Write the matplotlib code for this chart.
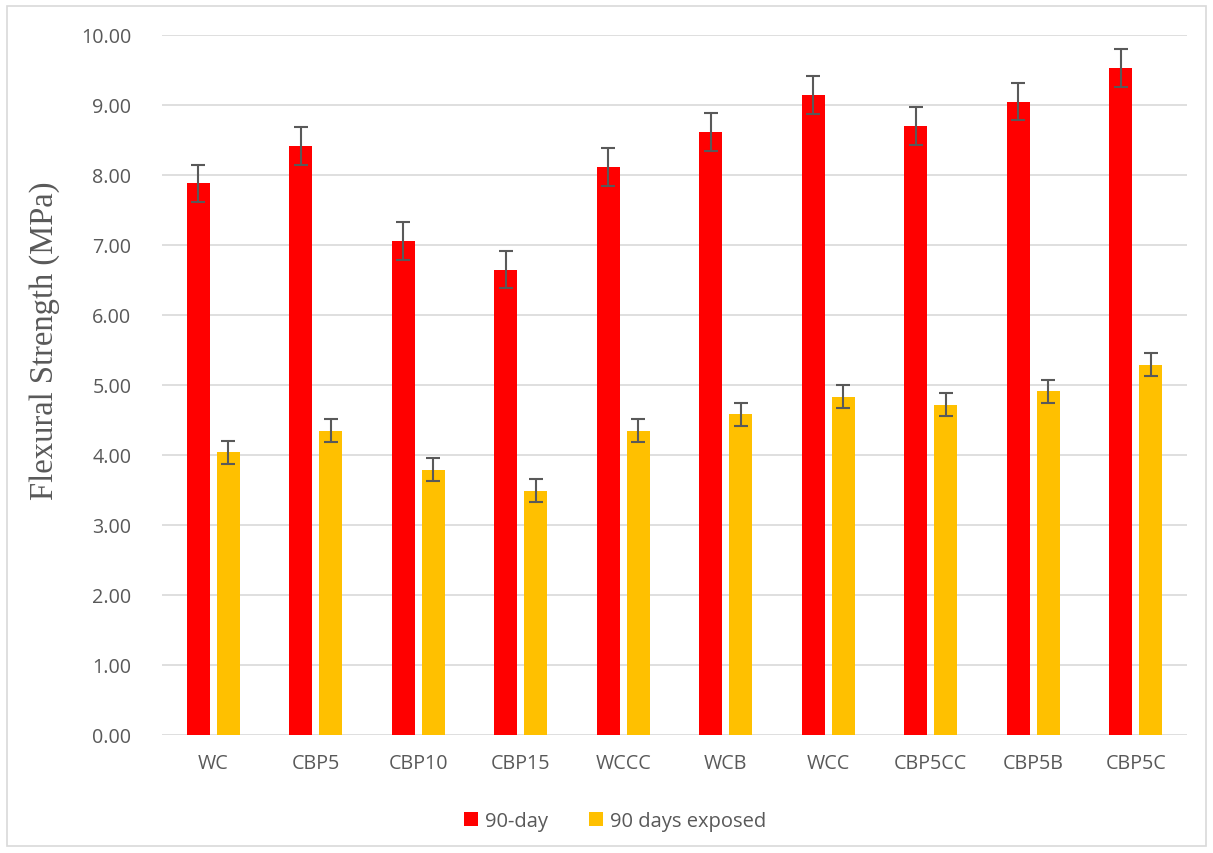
import numpy as np
import matplotlib.pyplot as plt
from matplotlib.patches import Rectangle

mixes = ["WC", "CBP5", "CBP10", "CBP15", "WCCC", "WCB", "WCC", "CBP5CC", "CBP5B", "CBP5C"]
strength_90 = [7.88, 8.42, 7.06, 6.65, 8.12, 8.61, 9.14, 8.70, 9.05, 9.53]
strength_exp = [4.04, 4.35, 3.79, 3.49, 4.35, 4.58, 4.83, 4.72, 4.91, 5.29]
err_90 = [0.27] * 10
err_exp = [0.165] * 10

gray = "#595959"
plt.rcParams["font.family"] = ["Open Sans", "DejaVu Sans"]

fig = plt.figure(figsize=(12.13, 8.54), dpi=100)
ax = fig.add_axes([162 / 1213, 1 - 736 / 854, 1025 / 1213, 700 / 854])

x = np.arange(len(mixes))
w = 0.225
ax.bar(x - 0.148, strength_90, w, color="#ff0000", label="90-day", zorder=2,
       yerr=err_90, error_kw=dict(ecolor=gray, elinewidth=1.5, capsize=5, capthick=1.5))
ax.bar(x + 0.148, strength_exp, w, color="#ffc000", label="90 days exposed", zorder=2,
       yerr=err_exp, error_kw=dict(ecolor=gray, elinewidth=1.5, capsize=5, capthick=1.5))

ax.set_xlim(-0.5, len(mixes) - 0.5)
ax.set_ylim(0, 10)
ax.set_yticks(np.arange(0, 10.5, 1))
ax.set_yticklabels([f"{v:.2f}" for v in np.arange(0, 10.5, 1)])
ax.set_xticks(x)
ax.set_xticklabels(mixes)
ax.tick_params(axis="both", length=0, labelsize=14.2, colors=gray)
ax.tick_params(axis="y", pad=22)
ax.tick_params(axis="x", pad=13)
ax.yaxis.grid(True, color="#d9d9d9", linewidth=1.2, zorder=0)
for s in ax.spines.values():
    s.set_visible(False)

fig.text(45 / 1213, 1 - 341 / 854, "Flexural Strength (MPa)", rotation=90,
         ha="center", va="center", fontsize=23.5, color=gray, family="Liberation Serif")

fig.legend(loc="center", bbox_to_anchor=(615 / 1213, 1 - 822 / 854), ncol=2,
           frameon=False, fontsize=14.5, handlelength=0.7, handleheight=0.7,
           handletextpad=0.35, columnspacing=2.0, labelcolor=gray)

# thin outer frame
fig.patches.append(Rectangle((7 / 1213, 7 / 854), 1199 / 1213, 840 / 854,
                             transform=fig.transFigure, fill=False,
                             edgecolor="#d9d9d9", linewidth=1.2))

fig.savefig("out.png", dpi=100, facecolor="white")
